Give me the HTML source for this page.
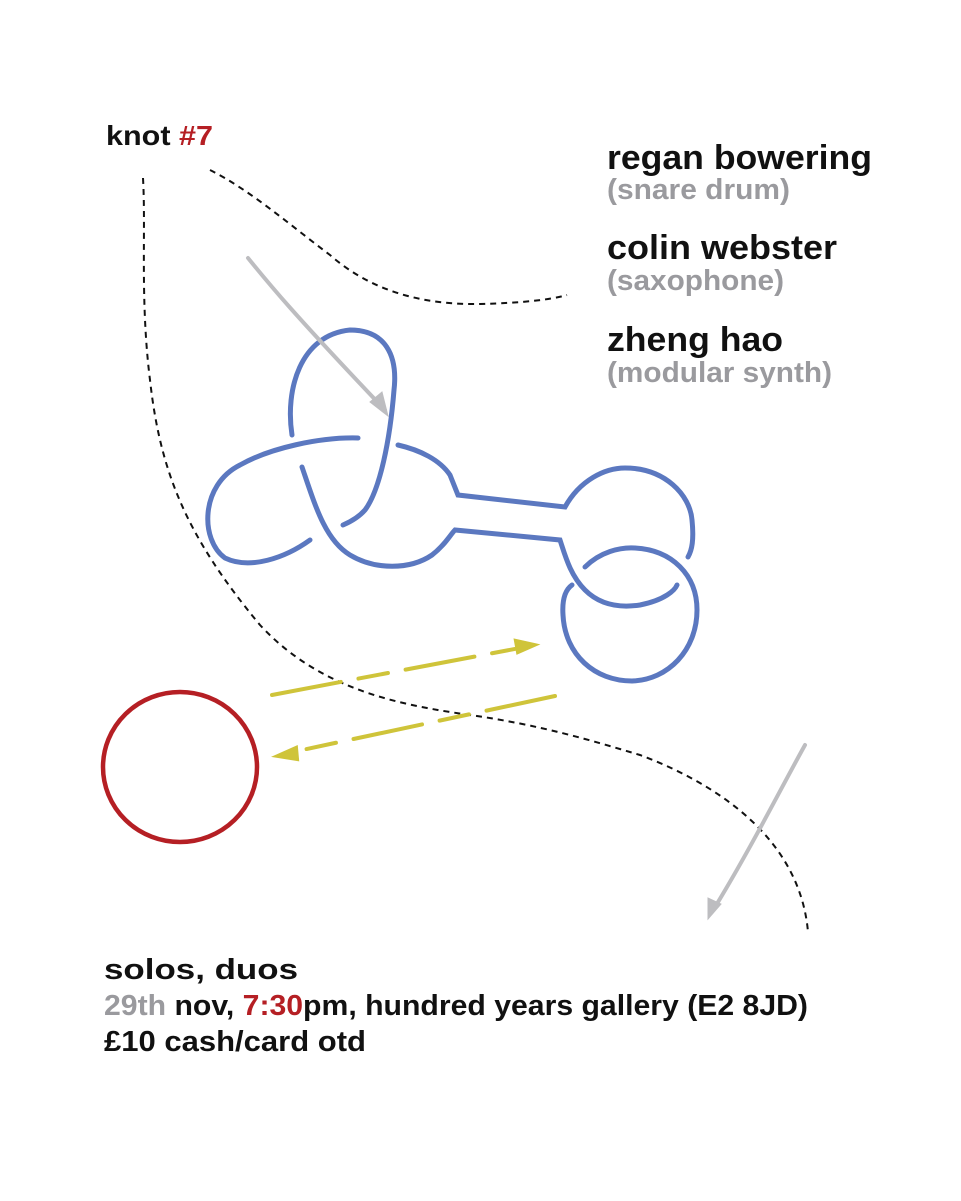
<!DOCTYPE html>
<html><head><meta charset="utf-8"><style>
html,body{margin:0;padding:0;background:#fff;}
svg{display:block;}
text{font-family:"Liberation Sans",sans-serif;font-weight:bold;}
</style></head><body>
<svg width="961" height="1201" viewBox="0 0 961 1201" xmlns="http://www.w3.org/2000/svg">
<rect width="961" height="1201" fill="#fff"/>
<text x="106" y="145" font-size="28" fill="#111" textLength="107" lengthAdjust="spacingAndGlyphs">knot <tspan fill="#b51f24">#7</tspan></text>
<text x="607" y="169" font-size="34" fill="#111" textLength="265" lengthAdjust="spacingAndGlyphs">regan bowering</text>
<text x="607" y="199" font-size="29" fill="#9a9a9e" textLength="183" lengthAdjust="spacingAndGlyphs">(snare drum)</text>
<text x="607" y="259" font-size="34" fill="#111" textLength="230" lengthAdjust="spacingAndGlyphs">colin webster</text>
<text x="607" y="290" font-size="29" fill="#9a9a9e" textLength="177" lengthAdjust="spacingAndGlyphs">(saxophone)</text>
<text x="607" y="351" font-size="34" fill="#111" textLength="176" lengthAdjust="spacingAndGlyphs">zheng hao</text>
<text x="607" y="382" font-size="29" fill="#9a9a9e" textLength="225" lengthAdjust="spacingAndGlyphs">(modular synth)</text>
<text x="104" y="979" font-size="29" fill="#111" textLength="194" lengthAdjust="spacingAndGlyphs">solos, duos</text>
<text x="104" y="1015" font-size="29" fill="#111" textLength="704" lengthAdjust="spacingAndGlyphs"><tspan fill="#9a9a9e">29th</tspan> nov, <tspan fill="#b51f24">7:30</tspan>pm, hundred years gallery (E2 8JD)</text>
<text x="104" y="1051" font-size="29" fill="#111" textLength="262" lengthAdjust="spacingAndGlyphs">£10 cash/card otd</text>

<g fill="none" stroke="#111" stroke-width="2" stroke-dasharray="6,5">
<path d="M143,178 C146,230 140,300 150,380 C160,470 185,535 260,625 C320,690 400,705 470,715 C540,725 590,740 640,755 C720,785 800,840 808,932"/>
<path d="M210,170 C250,190 290,225 330,255 C370,290 420,305 480,304 C520,303 550,300 567,295"/>
</g>

<g fill="none" stroke="#5b78c0" stroke-width="5" stroke-linecap="round">
<path d="M292,435 C285,390 300,335 350,330 C385,330 398,355 394,390 C390,440 380,490 365,510 C358,518 350,522 343,525"/>
<path d="M358,438 C320,437 270,448 240,465 C200,485 200,540 225,558 C250,570 285,558 310,540"/>
<path d="M302,467 C315,505 325,540 350,555 C375,570 410,570 432,555 C445,545 450,535 455,530 L560,540 C565,555 570,575 585,590 C600,605 620,608 640,605 C665,600 675,590 677,585"/>
<path d="M398,445 C420,450 440,460 450,475 L458,495 L565,507 C580,480 605,468 625,468 C665,468 690,495 692,520 C694,540 692,550 688,557"/>
<path d="M585,567 C600,552 620,547 635,548 C672,550 697,575 697,610 C697,650 668,680 632,681 C595,681 565,655 563,615 C562,600 565,590 572,585"/>
</g>

<g stroke="#bdbdc0" stroke-linecap="round" fill="#bdbdc0">
<path d="M248,258 C270,285 290,310 385,410" stroke-width="4" fill="none"/>
<polygon points="388,416 370,402 382,392"/>
<path d="M805,745 C780,790 750,850 712,912" stroke-width="4" fill="none"/>
<polygon points="708,919 708,898 721,904"/>
</g>

<g stroke="#cfc43a" stroke-width="4" stroke-linecap="round" fill="#cfc43a">
<path d="M272,695 L525,647" stroke-dasharray="70,18,30,18" fill="none"/>
<polygon points="534,645 516,641 518,652"/>
<path d="M555,696 L288,753" stroke-dasharray="70,18,30,18" fill="none"/>
<polygon points="278,756 296,748 297,759"/>
</g>

<ellipse cx="180" cy="767" rx="77" ry="75" fill="none" stroke="#b51f24" stroke-width="4.5"/>
</svg>
</body></html>
